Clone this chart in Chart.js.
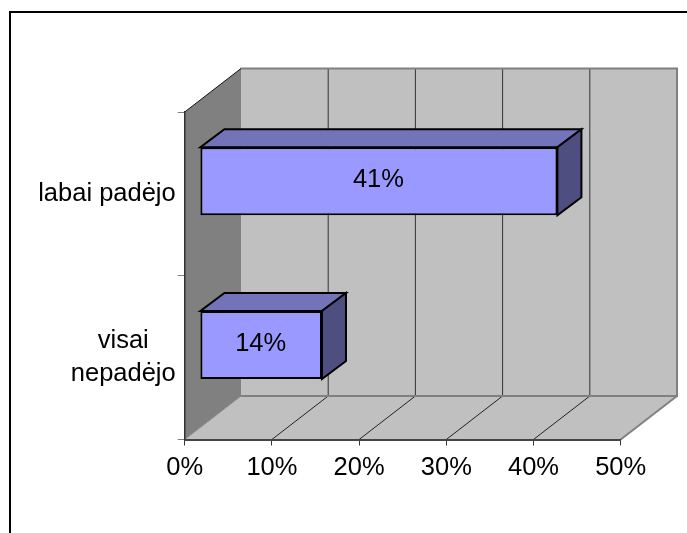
<!DOCTYPE html>
<html>
<head>
<meta charset="utf-8">
<style>html,body{margin:0;padding:0;background:#fff}canvas{display:block}</style>
<script src="https://cdn.jsdelivr.net/npm/chart.js@4/dist/chart.umd.min.js"></script>
</head>
<body>
<canvas id="c" width="687" height="533"></canvas>
<script>
const categories = ['labai padėjo', ['visai', 'nepadėjo']];
const values = [41, 14];
const axisMax = 50;
const axisStep = 10;

const FONT = '"Liberation Sans", Arial, sans-serif';
const FS = 25.5;
const WALL = {dx: 56.3, dy: 43.5};
const BAR_OFFSET = {dx: 15.2, dy: 12.6};
const BAR_DEPTH = {dx: 24, dy: 18};

function poly(ctx, pts, fill, stroke, lw) {
  ctx.beginPath();
  pts.forEach((p, i) => i ? ctx.lineTo(p[0], p[1]) : ctx.moveTo(p[0], p[1]));
  ctx.closePath();
  if (fill) { ctx.fillStyle = fill; ctx.fill(); }
  if (stroke) { ctx.strokeStyle = stroke; ctx.lineWidth = lw; ctx.lineJoin = 'miter'; ctx.stroke(); }
}
function seg(ctx, x1, y1, x2, y2, color, lw) {
  ctx.beginPath(); ctx.moveTo(x1, y1); ctx.lineTo(x2, y2);
  ctx.strokeStyle = color; ctx.lineWidth = lw; ctx.stroke();
}

const scene3d = {
  id: 'scene3d',
  beforeDraw(chart) {
    const {ctx, chartArea: a, scales} = chart;
    const {dx, dy} = WALL;
    ctx.save();
    // outer frame (open to the right and bottom)
    seg(ctx, 10, 533, 10, 12, '#000', 2);
    seg(ctx, 9, 12, 687, 12, '#000', 2);
    // back wall
    poly(ctx, [[a.left+dx,a.top-dy],[a.right+dx,a.top-dy],[a.right+dx,a.bottom-dy],[a.left+dx,a.bottom-dy]], '#c0c0c0');
    // floor
    poly(ctx, [[a.left,a.bottom],[a.right,a.bottom],[a.right+dx,a.bottom-dy],[a.left+dx,a.bottom-dy]], '#c0c0c0');
    // left wall
    poly(ctx, [[a.left,a.top],[a.left+dx,a.top-dy],[a.left+dx,a.bottom-dy],[a.left,a.bottom]], '#808080');
    // grid lines on floor and back wall
    scales.x.ticks.forEach((t, i) => {
      const x = scales.x.getPixelForTick(i);
      if (i > 0 && t.value < axisMax) {
        seg(ctx, x, a.bottom, x+dx, a.bottom-dy, '#222', 1);
        seg(ctx, x+dx, a.top-dy, x+dx, a.bottom-dy, '#333', 1);
      }
    });
    // wall edges
    seg(ctx, a.left+dx-0.5, a.top-dy, a.right+dx+1, a.top-dy, '#808080', 2);
    seg(ctx, a.right+dx, a.top-dy, a.right+dx, a.bottom-dy, '#808080', 2);
    seg(ctx, a.left+dx, a.bottom-dy, a.right+dx+1, a.bottom-dy, '#808080', 2);
    seg(ctx, a.right, a.bottom, a.right+dx, a.bottom-dy, '#808080', 2);
    seg(ctx, a.left, a.bottom, a.left+dx, a.bottom-dy, '#8a8a8a', 1);
    seg(ctx, a.left, a.top, a.left+dx, a.top-dy, '#111', 1);
    ctx.restore();

    // centre each line of a tick label within its own block, keeping the right edge
    const ys = scales.y;
    ctx.save();
    ctx.font = FS + 'px ' + FONT;
    ys.getLabelItems(chart.chartArea).forEach(item => {
      const lines = [].concat(item.label);
      const w = Math.max(...lines.map(s => ctx.measureText(s).width));
      if (item.options.textAlign !== 'center') {
        item.options.translation[0] -= w / 2;
        item.options.textAlign = 'center';
      }
    });
    ctx.restore();
  },
  beforeDatasetDraw(chart, args) {
    const {ctx} = chart;
    ctx.save();
    ctx.translate(BAR_OFFSET.dx, -BAR_OFFSET.dy);
    chart.getDatasetMeta(args.index).data.forEach(el => {
      const {x, y, base, height} = el.getProps(['x','y','base','height'], true);
      const t = y - height/2, b = y + height/2;
      const {dx, dy} = BAR_DEPTH;
      poly(ctx, [[base,t],[x,t],[x+dx,t-dy],[base+dx,t-dy]], '#7373ba', '#000', 2);
      poly(ctx, [[x,t],[x+dx,t-dy],[x+dx,b-dy],[x,b]], '#4e4e80', '#000', 2);
    });
  },
  afterDatasetDraw(chart) {
    chart.ctx.restore();
  },
  afterDatasetsDraw(chart) {
    const {ctx} = chart;
    ctx.save();
    ctx.fillStyle = '#000';
    ctx.font = FS + 'px ' + FONT;
    ctx.textAlign = 'center';
    ctx.textBaseline = 'middle';
    chart.getDatasetMeta(0).data.forEach((el, i) => {
      const {x, y, base} = el.getProps(['x','y','base'], true);
      ctx.fillText(values[i] + '%', (x + base)/2 + BAR_OFFSET.dx - 0.5, y - BAR_OFFSET.dy - 1);
    });
    ctx.restore();
  }
};

new Chart(document.getElementById('c'), {
  type: 'bar',
  data: {
    labels: categories,
    datasets: [{
      data: values,
      backgroundColor: '#9999ff',
      borderColor: '#000',
      borderWidth: 2,
      borderSkipped: false,
      categoryPercentage: 1,
      barPercentage: 0.415,
      clip: false
    }]
  },
  plugins: [scene3d],
  options: {
    indexAxis: 'y',
    responsive: false,
    animation: false,
    devicePixelRatio: 1,
    layout: {padding: {left: 0, top: 112, right: 66.3, bottom: 0}},
    plugins: {legend: {display: false}, tooltip: {enabled: false}, title: {display: false}},
    scales: {
      x: {
        min: 0,
        max: axisMax,
        ticks: {
          stepSize: axisStep,
          maxRotation: 0,
          autoSkip: false,
          color: '#000',
          padding: 7,
          font: {family: FONT, size: FS},
          callback: v => v + '%'
        },
        grid: {drawOnChartArea: false, drawTicks: true, tickLength: 6, tickColor: '#333', tickWidth: 1},
        border: {display: true, color: '#444', width: 2},
        afterFit: s => { s.height = 93.5; }
      },
      y: {
        ticks: {
          color: '#000',
          padding: 2,
          autoSkip: false,
          font: {family: FONT, size: FS, lineHeight: 1.3}
        },
        grid: {drawOnChartArea: false, drawTicks: true, tickLength: 7, tickColor: '#808080', tickWidth: 1},
        border: {display: true, color: '#333', width: 1.5},
        afterFit: s => { s.width = 184.7; }
      }
    }
  }
});
</script>
</body>
</html>
